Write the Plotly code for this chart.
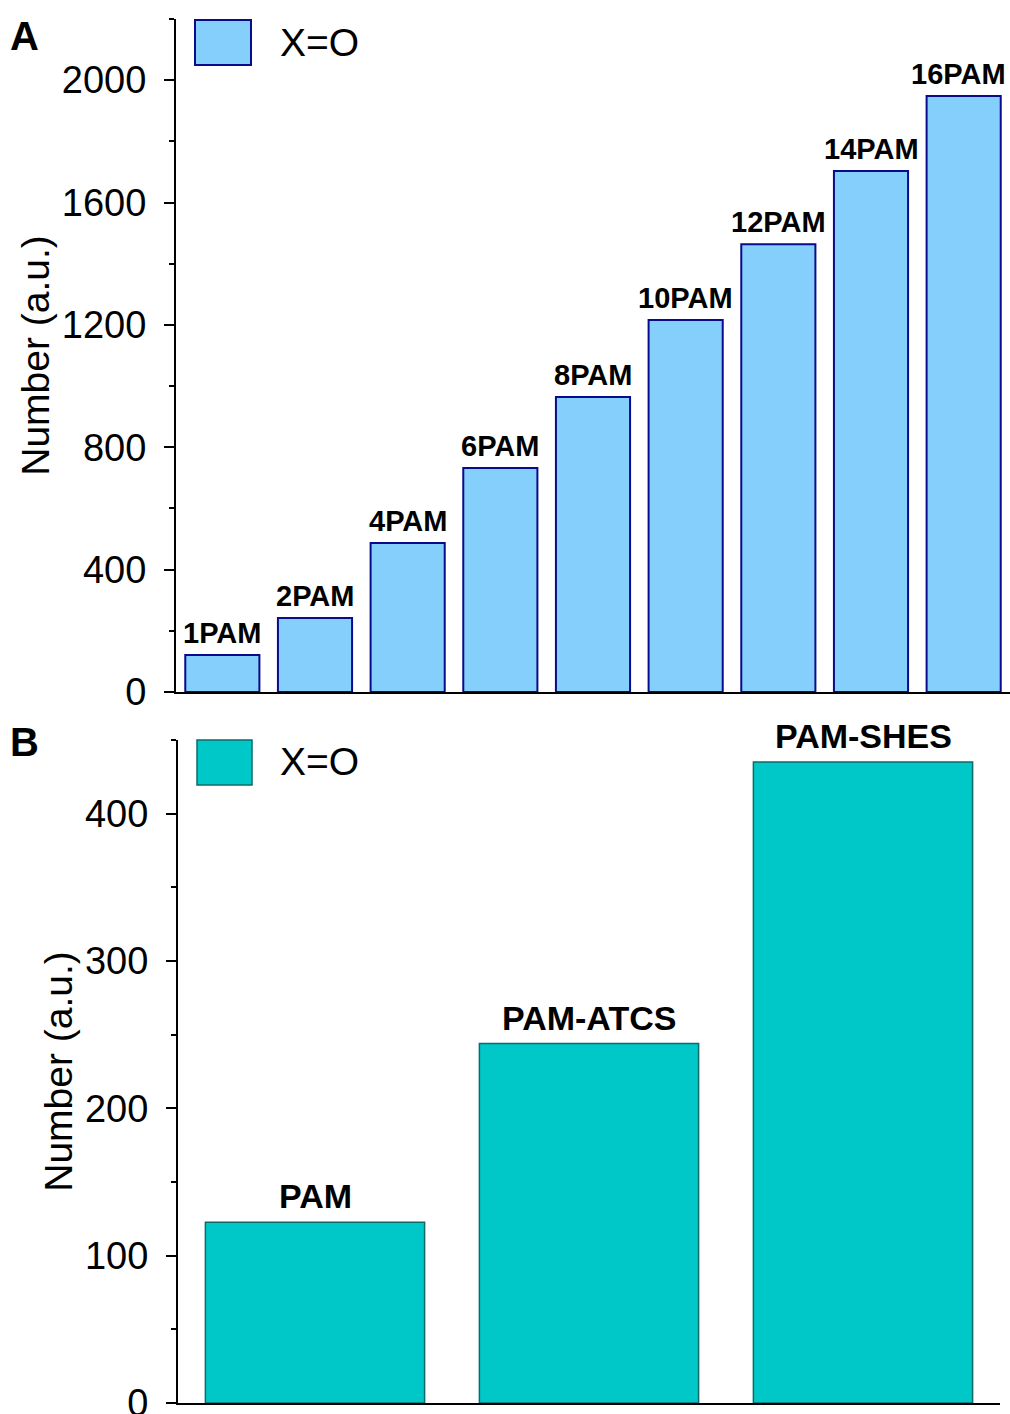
import plotly.graph_objects as go

# Panel A data
cats_a = ["1PAM", "2PAM", "4PAM", "6PAM", "8PAM", "10PAM", "12PAM", "14PAM", "16PAM"]
vals_a = [121, 242, 487, 732, 964, 1216, 1464, 1703, 1948]
yticks_a = [0, 400, 800, 1200, 1600, 2000]

# Panel B data
cats_b = ["PAM", "PAM-ATCS", "PAM-SHES"]
vals_b = [122.7, 244, 435]
yticks_b = [0, 100, 200, 300, 400]

legend_label = "X=O"
W, H = 1010, 1414
FONT = "Liberation Sans, Arial, sans-serif"

def px(x):
    return x / W

def py(y):
    return 1 - y / H

fig = go.Figure()
fig.add_trace(go.Bar(
    x=cats_a, y=vals_a, cliponaxis=False,
    marker=dict(color="#84CFFC", line=dict(color="#0A0A8C", width=2)),
    xaxis="x", yaxis="y", showlegend=False, width=0.8,
))
fig.add_trace(go.Bar(
    x=cats_b, y=vals_b, cliponaxis=False,
    marker=dict(color="#00C8C8", line=dict(color="#0B6B6B", width=1.5)),
    xaxis="x2", yaxis="y2", showlegend=False, width=0.8,
))

axis_common = dict(showline=True, linecolor="black", linewidth=2, showgrid=False,
                   zeroline=False, mirror=False, automargin=False)

fig.update_layout(
    width=W, height=H, margin=dict(l=0, r=0, t=0, b=0, autoexpand=False),
    paper_bgcolor="white", plot_bgcolor="white",
    font=dict(family=FONT, color="black"),
    xaxis=dict(domain=[px(176), 1.0], range=[-0.5, 8.5], showticklabels=False,
               ticks="", anchor="y", **axis_common),
    yaxis=dict(domain=[py(692), py(19)], range=[0, 2200], anchor="x",
               tickvals=yticks_a, ticks="outside", ticklen=10, tickwidth=2,
               tickcolor="black", tickfont=dict(size=38, family=FONT),
               ticklabelstandoff=10, ticklabeloverflow="allow",
               minor=dict(dtick=200, tick0=0, ticks="outside", ticklen=5,
                          tickwidth=2, tickcolor="black"),
               title=dict(text="Number (a.u.)", font=dict(size=39, family=FONT), standoff=0),
               **axis_common),
    xaxis2=dict(domain=[px(178), px(1000)], range=[-0.5, 2.5], showticklabels=False,
                ticks="", anchor="y2", **axis_common),
    yaxis2=dict(domain=[py(1403), py(740)], range=[0, 450], anchor="x2",
                tickvals=yticks_b, ticks="outside", ticklen=10, tickwidth=2,
                tickcolor="black", tickfont=dict(size=38, family=FONT),
                ticklabelstandoff=10, ticklabeloverflow="allow",
                minor=dict(dtick=50, tick0=0, ticks="outside", ticklen=5,
                           tickwidth=2, tickcolor="black"),
                title=dict(text="Number (a.u.)", font=dict(size=39, family=FONT), standoff=0),
                **axis_common),
    showlegend=False,
    bargap=0.2,
)

# Bar labels, placed on the data coordinates of each bar
for i, (c, v) in enumerate(zip(cats_a, vals_a)):
    fig.add_annotation(x=c, y=v, xref="x", yref="y", text=f"<b>{c}</b>",
                       showarrow=False, xanchor="center", yanchor="middle",
                       yshift=22, xshift=(-5 if i == len(cats_a) - 1 else 0),
                       font=dict(size=29, family=FONT, color="black"))
for c, v in zip(cats_b, vals_b):
    fig.add_annotation(x=c, y=v, xref="x2", yref="y2", text=f"<b>{c}</b>",
                       showarrow=False, xanchor="center", yanchor="middle",
                       yshift=26, font=dict(size=34, family=FONT, color="black"))

# Manual legends (large swatches)
fig.add_shape(type="rect", xref="paper", yref="paper",
              x0=px(195), x1=px(251), y0=py(65), y1=py(20),
              fillcolor="#84CFFC", line=dict(color="#0A0A8C", width=2))
fig.add_annotation(xref="paper", yref="paper", x=px(278), y=py(42), text=legend_label,
                   showarrow=False, xanchor="left", yanchor="middle",
                   font=dict(size=39, family=FONT, color="black"))
fig.add_shape(type="rect", xref="paper", yref="paper",
              x0=px(197), x1=px(252), y0=py(785), y1=py(740),
              fillcolor="#00C8C8", line=dict(color="#0B6B6B", width=1.5))
fig.add_annotation(xref="paper", yref="paper", x=px(278), y=py(762), text=legend_label,
                   showarrow=False, xanchor="left", yanchor="middle",
                   font=dict(size=39, family=FONT, color="black"))

# Panel letters
fig.add_annotation(xref="paper", yref="paper", x=px(8), y=py(36), text="<b>A</b>",
                   showarrow=False, xanchor="left", yanchor="middle",
                   font=dict(size=40, family=FONT, color="black"))
fig.add_annotation(xref="paper", yref="paper", x=px(8), y=py(742), text="<b>B</b>",
                   showarrow=False, xanchor="left", yanchor="middle",
                   font=dict(size=40, family=FONT, color="black"))

fig.write_html("out.html", config={"displayModeBar": False},
               post_script="document.body.style.margin='0';document.body.style.overflow='hidden';")
